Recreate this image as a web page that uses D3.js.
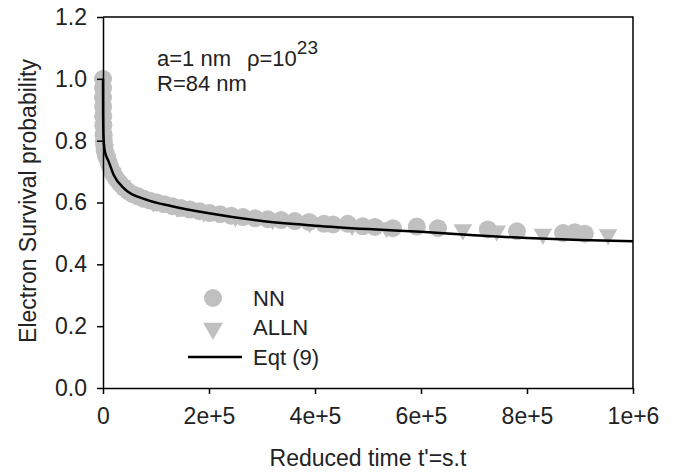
<!DOCTYPE html>
<html lang="en">

<head>
  <meta charset="UTF-8">
  <title>Electron Survival probability</title>
  <style>
    body {
      margin: 0;
      background: #fff;
    }

    svg text {
      font-family: "Liberation Sans", Arial, sans-serif;
      fill: #222;
    }
  </style>
</head>

<body>

  <script src="https://d3js.org/d3.v7.min.js"></script>

  <script>
    // Eqt (9) curve
    const eqtTime = [0, 150, 400, 1000, 3000, 6000, 10000, 20000, 40000, 80000, 130000, 200000, 300000,
      400000, 500000, 600000, 700000, 800000, 900000, 1000000];
    const eqtValue = [1.0, 0.90, 0.85, 0.81, 0.77, 0.75, 0.735, 0.69, 0.645, 0.61, 0.588, 0.565, 0.54,
      0.525, 0.514, 0.505, 0.494, 0.485, 0.479, 0.475];

    // NN simulation points
    const nnTime = [0, 0, 0, 200, 400, 700, 1100, 1600, 2300, 3200, 4500, 6000, 8000, 10500, 13500, 17000,
      21000, 26000, 32000, 39000, 47000, 56000, 66000, 77000, 89000, 102000, 116000, 131000, 147000,
      164000, 182000, 201000, 221000, 242000, 264000, 287000, 311000, 336000, 362000, 389000, 417000,
      434000, 462000, 490000, 513000, 547000, 592000, 632000, 726000, 781000, 868000, 890000, 909000];
    const nnValue = [1.0, 0.97, 0.94, 0.91, 0.88, 0.85, 0.82, 0.80, 0.785, 0.77, 0.76, 0.75, 0.742, 0.73,
      0.715, 0.70, 0.688, 0.675, 0.662, 0.648, 0.637, 0.627, 0.62, 0.612, 0.606, 0.60, 0.594, 0.588,
      0.582, 0.577, 0.572, 0.566, 0.562, 0.557, 0.553, 0.549, 0.546, 0.543, 0.540, 0.537, 0.531,
      0.529, 0.531, 0.523, 0.521, 0.517, 0.522, 0.517, 0.513, 0.507, 0.501, 0.504, 0.499];

    // ALLN simulation points
    const allnTime = [0, 500, 1500, 3500, 8000, 18000, 35000, 60000, 95000, 140000, 190000, 250000,
      320000, 390000, 470000, 535000, 679000, 743000, 830000, 953000];
    const allnValue = [0.99, 0.86, 0.80, 0.77, 0.74, 0.695, 0.655, 0.625, 0.602, 0.585, 0.57, 0.555,
      0.545, 0.535, 0.526, 0.519, 0.512, 0.508, 0.498, 0.496];

    const yTicks = [0, 0.2, 0.4, 0.6, 0.8, 1.0, 1.2];
    const xTicks = [0, 200000, 400000, 600000, 800000, 1000000];
    const xTickLabels = ["0", "2e+5", "4e+5", "6e+5", "8e+5", "1e+6"];

    const legendItems = [
      { label: "NN", kind: "circle" },
      { label: "ALLN", kind: "triangle" },
      { label: "Eqt (9)", kind: "line" }
    ];

    const width = 687, height = 473;
    const margin = { top: 17, right: 54, bottom: 85, left: 103 };
    const markerColor = "#c0c0c0";

    const svg = d3.select("body")
      .append("svg")
      .attr("width", width)
      .attr("height", height);

    const x = d3.scaleLinear()
      .domain([0, 1000000])
      .range([margin.left, width - margin.right]);

    const y = d3.scaleLinear()
      .domain([0, 1.2])
      .range([height - margin.bottom, margin.top]);

    // frame (top and right)
    svg.append("path")
      .attr("d", `M${x(0)},${y(1.2)}H${x(1000000)}V${y(0)}`)
      .attr("fill", "none")
      .attr("stroke", "#000")
      .attr("stroke-width", 1.5);

    // markers
    const nn = nnTime.map((t, i) => ({ t, v: nnValue[i] }));
    const alln = allnTime.map((t, i) => ({ t, v: allnValue[i] }));

    svg.append("g")
      .selectAll("circle")
      .data(nn)
      .join("circle")
      .attr("cx", d => x(d.t))
      .attr("cy", d => y(d.v))
      .attr("r", 9)
      .attr("fill", markerColor);

    const tri = d3.symbol().type(d3.symbolTriangle).size(150);
    svg.append("g")
      .selectAll("path")
      .data(alln)
      .join("path")
      .attr("d", tri)
      .attr("transform", d => `translate(${x(d.t)},${y(d.v)}) rotate(180)`)
      .attr("fill", markerColor);

    // Eqt (9)
    const line = d3.line()
      .x((d, i) => x(eqtTime[i]))
      .y(d => y(d))
      .curve(d3.curveMonotoneX);

    svg.append("path")
      .datum(eqtValue)
      .attr("fill", "none")
      .attr("stroke", "#000")
      .attr("stroke-width", 2.5)
      .attr("d", line);

    // axes
    const yAxis = svg.append("g")
      .attr("transform", `translate(${x(0)},0)`)
      .call(d3.axisLeft(y).tickValues(yTicks).tickFormat(d3.format(".1f")).tickSize(6).tickSizeOuter(0).tickPadding(10));

    const xAxis = svg.append("g")
      .attr("transform", `translate(0,${y(0)})`)
      .call(d3.axisBottom(x).tickValues(xTicks).tickFormat((d, i) => xTickLabels[i]).tickSize(6).tickSizeOuter(0).tickPadding(14));

    [yAxis, xAxis].forEach(a => {
      a.select(".domain").attr("stroke", "#000").attr("stroke-width", 1.5);
      a.selectAll(".tick line").attr("stroke", "#000").attr("stroke-width", 1.5);
      a.selectAll("text").attr("font-size", 23).attr("fill", "#222");
    });

    // axis titles
    svg.append("text")
      .attr("x", (x(0) + x(1000000)) / 2)
      .attr("y", 466)
      .attr("text-anchor", "middle")
      .attr("font-size", 23)
      .text("Reduced time t'=s.t");

    svg.append("text")
      .attr("transform", "translate(36,201) rotate(-90)")
      .attr("text-anchor", "middle")
      .attr("font-size", 23)
      .text("Electron Survival probability");

    // annotation
    const ann = svg.append("text")
      .attr("x", 157)
      .attr("y", 66)
      .attr("font-size", 22);
    ann.append("tspan").text("a=1 nm");
    ann.append("tspan").attr("x", 247).text("\u03c1=10");
    ann.append("tspan").attr("dy", -12).attr("font-size", 19).text("23");

    svg.append("text")
      .attr("x", 157)
      .attr("y", 91)
      .attr("font-size", 22)
      .text("R=84 nm");

    // legend
    const legend = svg.append("g")
      .selectAll("g")
      .data(legendItems)
      .join("g")
      .attr("transform", (d, i) => `translate(213,${298 + i * 29.5})`);

    legend.filter(d => d.kind === "circle")
      .append("circle")
      .attr("r", 9)
      .attr("fill", markerColor);

    legend.filter(d => d.kind === "triangle")
      .append("path")
      .attr("d", d3.symbol().type(d3.symbolTriangle).size(170))
      .attr("transform", "translate(0,1) rotate(180)")
      .attr("fill", markerColor);

    legend.filter(d => d.kind === "line")
      .append("line")
      .attr("x1", -25)
      .attr("x2", 29)
      .attr("stroke", "#000")
      .attr("stroke-width", 2.5);

    legend.append("text")
      .attr("x", 40)
      .attr("dy", "0.36em")
      .attr("font-size", 22)
      .text(d => d.label);
  </script>
</body>

</html>
